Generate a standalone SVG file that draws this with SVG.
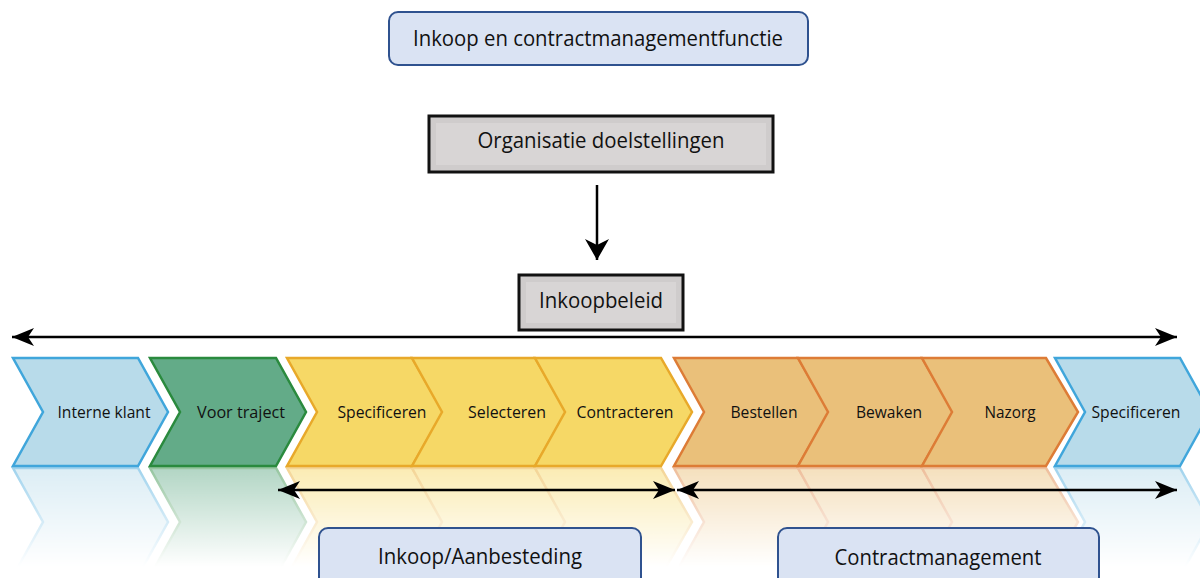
<svg xmlns="http://www.w3.org/2000/svg" xmlns:xlink="http://www.w3.org/1999/xlink" width="1200" height="578" viewBox="0 0 1200 578">
<style>
  text { font-family: "Open Sans", "Noto Sans", "Liberation Sans", sans-serif; fill: #111; }
  .lbl { font-size: 16px; }
  .big { font-size: 21px; }
  .rbox { fill: #dae3f3; stroke: #2f528f; stroke-width: 2; }
  .gbox { fill: #cfcccc; stroke: #111; stroke-width: 3; }
  .gin { fill: #d8d5d5; stroke: none; }
  .blue { fill: #b8dbea; stroke: #40a6db; stroke-width: 2.5; stroke-linejoin: miter; }
  .green { fill: #63ab88; stroke: #2a8a3e; stroke-width: 2.5; }
  .yellow { fill: #f6d866; stroke: #e8a92a; stroke-width: 2.5; }
  .orange { fill: #eac07a; stroke: #dd7c36; stroke-width: 2.5; }
  .conn { stroke: #000; stroke-width: 2.5; fill: none; }
</style>
<defs>
  <marker id="stealth" markerUnits="userSpaceOnUse" markerWidth="26" markerHeight="20" refX="22" refY="9" orient="auto-start-reverse">
    <path d="M0,0 L22,9 L0,18 L6,9 z" fill="#000"/>
  </marker>
  <marker id="stealthBig" markerUnits="userSpaceOnUse" markerWidth="26" markerHeight="28" refX="21" refY="12" orient="auto">
    <path d="M0,0 L21,12 L0,24 L6,12 z" fill="#000"/>
  </marker>
  <linearGradient id="fade" x1="0" y1="0" x2="0" y2="1">
    <stop offset="0" stop-color="#fff" stop-opacity="0.5"/>
    <stop offset="1" stop-color="#fff" stop-opacity="0"/>
  </linearGradient>
  <mask id="reflMask" maskUnits="userSpaceOnUse" x="0" y="466" width="1200" height="112">
    <rect x="0" y="467" width="1200" height="100" fill="url(#fade)"/>
  </mask>
  <polygon id="c1" points="13,358 138,358 168,412 138,466 13,466 43,412"/>
  <polygon id="c2" points="150,358 276,358 306,412 276,466 150,466 180,412"/>
  <polygon id="c3" points="287,358 412,358 443,412 412,466 287,466 317,412"/>
  <polygon id="c4" points="412,358 535,358 566,412 535,466 412,466 442,412"/>
  <polygon id="c5" points="535,358 661,358 692,412 661,466 535,466 565,412"/>
  <polygon id="c6" points="674,358 798,358 829,412 798,466 674,466 704,412"/>
  <polygon id="c7" points="798,358 922,358 953,412 922,466 798,466 828,412"/>
  <polygon id="c8" points="922,358 1046,358 1078,412 1046,466 922,466 952,412"/>
  <polygon id="c9" points="1055,358 1180,358 1210,412 1180,466 1055,466 1085,412"/>
</defs>
<rect width="1200" height="578" fill="#fff"/>

<!-- reflection -->
<g id="reflection" mask="url(#reflMask)">
  <g transform="translate(0,934) scale(1,-1)">
    <use xlink:href="#c1" class="blue"/>
    <use xlink:href="#c2" class="green"/>
    <use xlink:href="#c3" class="yellow"/>
    <use xlink:href="#c4" class="yellow"/>
    <use xlink:href="#c5" class="yellow"/>
    <use xlink:href="#c6" class="orange"/>
    <use xlink:href="#c7" class="orange"/>
    <use xlink:href="#c8" class="orange"/>
    <use xlink:href="#c9" class="blue"/>
  </g>
</g>

<g id="node-functie">
  <rect class="rbox" x="389" y="12" width="419" height="53" rx="9"/>
  <text class="big" x="598" y="46" text-anchor="middle" textLength="370" lengthAdjust="spacingAndGlyphs">Inkoop en contractmanagementfunctie</text>
</g>

<g id="node-doelstellingen">
  <rect class="gbox" x="429" y="116" width="344" height="56"/>
  <rect class="gin" x="436" y="123" width="330" height="42"/>
  <text class="big" x="601" y="148" text-anchor="middle" textLength="247" lengthAdjust="spacingAndGlyphs">Organisatie doelstellingen</text>
</g>

<g id="node-inkoopbeleid">
  <rect class="gbox" x="519" y="275" width="164" height="55"/>
  <rect class="gin" x="526" y="282" width="150" height="41"/>
  <text class="big" x="601" y="308" text-anchor="middle" textLength="124" lengthAdjust="spacingAndGlyphs">Inkoopbeleid</text>
</g>

<g id="node-interne-klant"><use xlink:href="#c1" class="blue"/><text class="lbl" x="104" y="418" text-anchor="middle" textLength="93" lengthAdjust="spacingAndGlyphs">Interne klant</text></g>
<g id="node-voor-traject"><use xlink:href="#c2" class="green"/><text class="lbl" x="241" y="418" text-anchor="middle" textLength="88" lengthAdjust="spacingAndGlyphs">Voor traject</text></g>
<g id="node-specificeren-1"><use xlink:href="#c3" class="yellow"/><text class="lbl" x="382" y="418" text-anchor="middle" textLength="89" lengthAdjust="spacingAndGlyphs">Specificeren</text></g>
<g id="node-selecteren"><use xlink:href="#c4" class="yellow"/><text class="lbl" x="507" y="418" text-anchor="middle" textLength="78" lengthAdjust="spacingAndGlyphs">Selecteren</text></g>
<g id="node-contracteren"><use xlink:href="#c5" class="yellow"/><text class="lbl" x="625" y="418" text-anchor="middle" textLength="97" lengthAdjust="spacingAndGlyphs">Contracteren</text></g>
<g id="node-bestellen"><use xlink:href="#c6" class="orange"/><text class="lbl" x="764" y="418" text-anchor="middle" textLength="67" lengthAdjust="spacingAndGlyphs">Bestellen</text></g>
<g id="node-bewaken"><use xlink:href="#c7" class="orange"/><text class="lbl" x="889" y="418" text-anchor="middle" textLength="66" lengthAdjust="spacingAndGlyphs">Bewaken</text></g>
<g id="node-nazorg"><use xlink:href="#c8" class="orange"/><text class="lbl" x="1010" y="418" text-anchor="middle" textLength="51" lengthAdjust="spacingAndGlyphs">Nazorg</text></g>
<g id="node-specificeren-2"><use xlink:href="#c9" class="blue"/><text class="lbl" x="1136" y="418" text-anchor="middle" textLength="89" lengthAdjust="spacingAndGlyphs">Specificeren</text></g>

<g id="node-inkoop-aanbesteding">
  <rect class="rbox" x="319" y="528" width="322" height="62" rx="9"/>
  <text class="big" x="480" y="564" text-anchor="middle" textLength="204" lengthAdjust="spacingAndGlyphs">Inkoop/Aanbesteding</text>
</g>
<g id="node-contractmanagement">
  <rect class="rbox" x="778" y="528" width="321" height="62" rx="9"/>
  <text class="big" x="938" y="565" text-anchor="middle" textLength="207" lengthAdjust="spacingAndGlyphs">Contractmanagement</text>
</g>

<g id="connectors">
  <line class="conn" x1="597" y1="185" x2="597" y2="260" marker-end="url(#stealthBig)"/>
  <line class="conn" x1="12" y1="337" x2="1177" y2="337" marker-start="url(#stealth)" marker-end="url(#stealth)"/>
  <line class="conn" x1="278" y1="490" x2="675" y2="490" marker-start="url(#stealth)" marker-end="url(#stealth)"/>
  <line class="conn" x1="677" y1="490" x2="1177" y2="490" marker-start="url(#stealth)" marker-end="url(#stealth)"/>
</g>
</svg>
